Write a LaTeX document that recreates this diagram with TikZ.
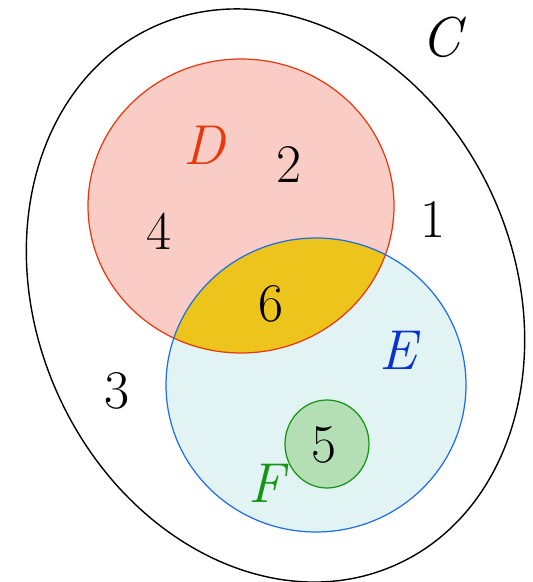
\documentclass[tikz,border=0pt]{standalone}
\usepackage{fontspec}
\definecolor{dred}{RGB}{232,56,13}
\definecolor{dfill}{RGB}{249,205,198}
\definecolor{eblue}{RGB}{30,110,230}
\definecolor{efill}{RGB}{226,243,243}
\definecolor{ffill}{RGB}{180,222,180}
\definecolor{fgreen}{RGB}{20,150,20}
\definecolor{lapfill}{RGB}{236,196,28}
\definecolor{lblue}{RGB}{10,50,205}

\begin{document}
\begin{tikzpicture}[x=0.02cm,y=0.02cm,
  num/.style={font=\fontsize{31}{37}\selectfont},
  setname/.style={font=\fontsize{32}{38}\selectfont\itshape}]
 \useasboundingbox (0,0) rectangle (533,582);
 \coordinate (cC) at (275.5,286.5);
 \coordinate (cD) at (241,376);
 \coordinate (cE) at (316,197);
 \coordinate (cF) at (327,138);
 % sets D and E, with their overlap
 \fill[dfill] (cD) ellipse [x radius=153,y radius=147];
 \fill[efill] (cE) ellipse [x radius=150,y radius=147];
 \begin{scope}
  \clip (cD) ellipse [x radius=153,y radius=147];
  \fill[lapfill] (cE) ellipse [x radius=150,y radius=147];
 \end{scope}
 \draw[dred,line width=0.7pt] (cD) ellipse [x radius=153,y radius=147];
 \draw[eblue,line width=0.7pt] (cE) ellipse [x radius=150,y radius=147];
 \filldraw[fill=ffill,draw=fgreen,line width=0.7pt] (cF) ellipse [x radius=42,y radius=44];
 % the whole set C
 \draw[line width=0.8pt,rotate around={114:(cC)}] (cC) ellipse [x radius=295,y radius=239];
 % names of the sets
 \node[setname] (lC) at (441,544.5) {C};
 \node[setname,text=dred] (lD) at (204,437) {D};
 \node[setname,text=lblue] (lE) at (398,232) {E};
 \node[setname,text=fgreen] (lF) at (266,99) {F};
 % regions
 \node[num] (n1) at (433,362) {1};
 \node[num] (n2) at (289,417) {2};
 \node[num] (n3) at (117,191) {3};
 \node[num] (n4) at (159,351) {4};
 \node[num] (n5) at (324,137) {5};
 \node[num] (n6) at (271,278) {6};
\end{tikzpicture}
\end{document}
